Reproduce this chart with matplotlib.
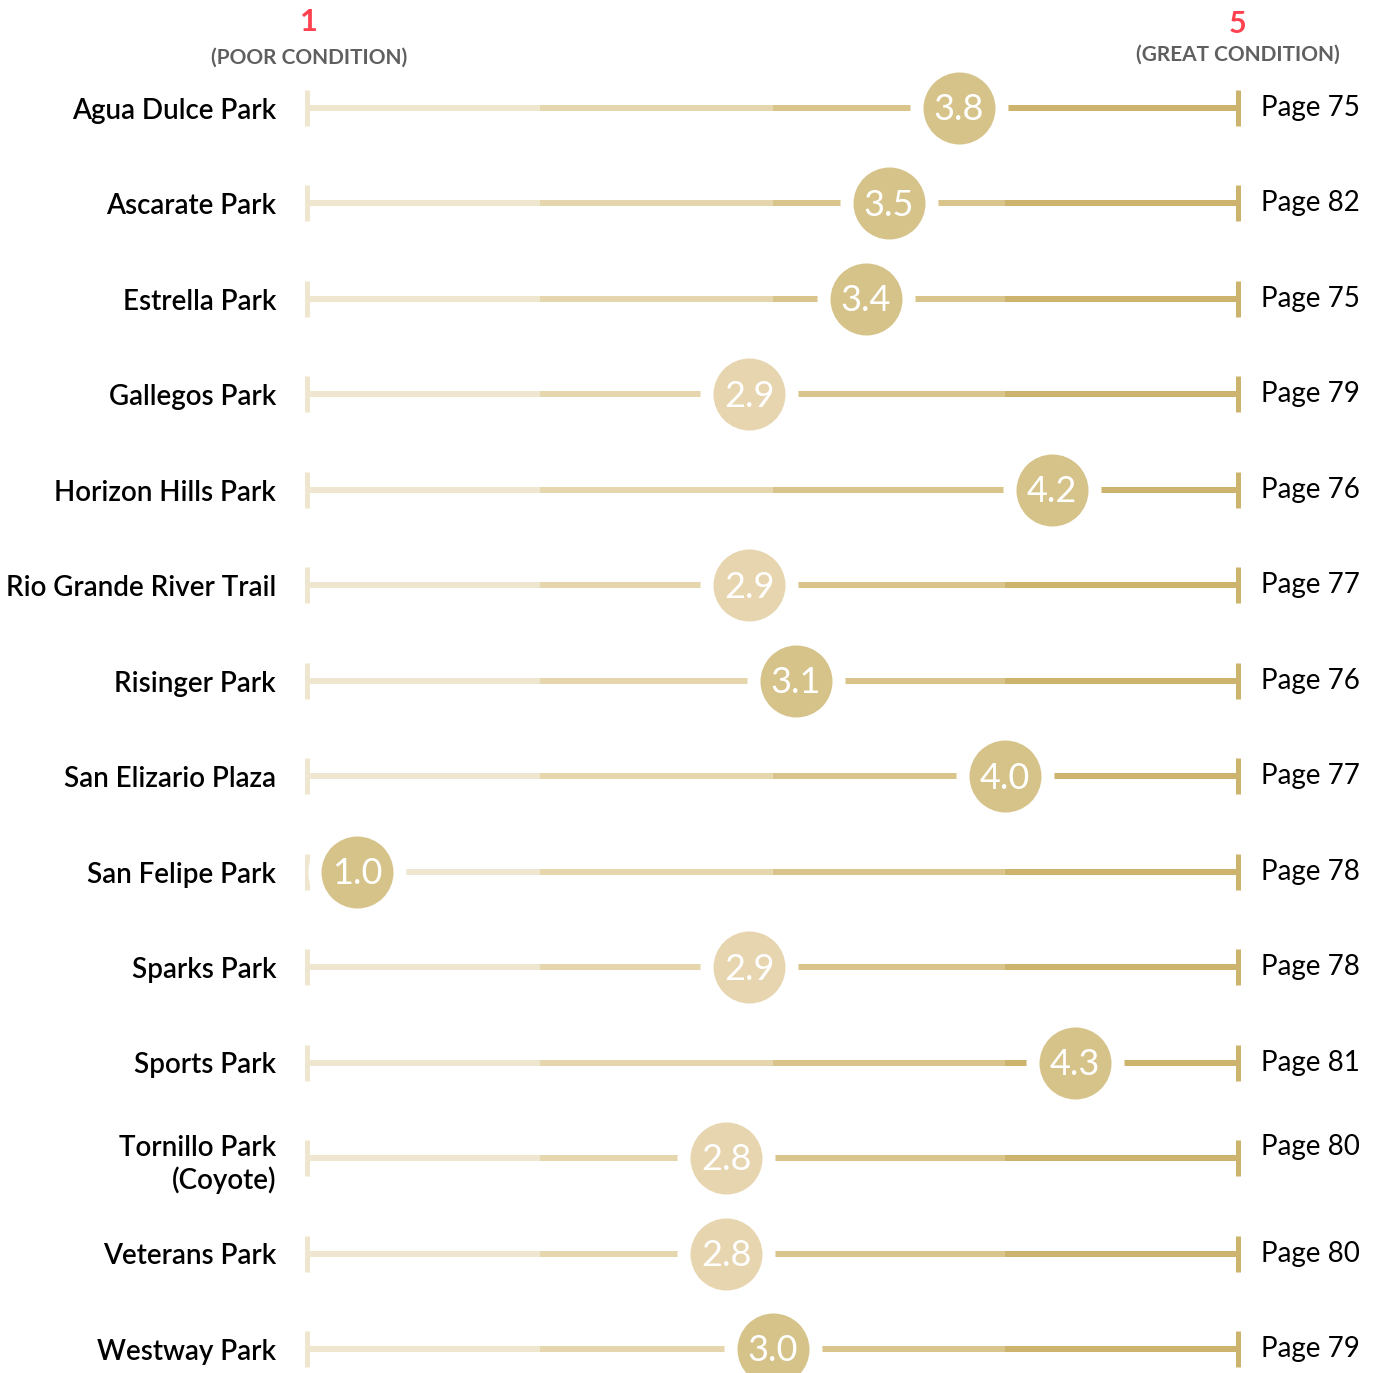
import matplotlib
matplotlib.use("Agg")
import matplotlib.pyplot as plt

# Park condition scores (1 = poor, 5 = great) and report page references
parks = [
    "Agua Dulce Park", "Ascarate Park", "Estrella Park", "Gallegos Park",
    "Horizon Hills Park", "Rio Grande River Trail", "Risinger Park",
    "San Elizario Plaza", "San Felipe Park", "Sparks Park", "Sports Park",
    "Tornillo Park\n(Coyote)", "Veterans Park", "Westway Park",
]
scores = [3.8, 3.5, 3.4, 2.9, 4.2, 2.9, 3.1, 4.0, 1.0, 2.9, 4.3, 2.8, 2.8, 3.0]
pages = ["Page 75", "Page 82", "Page 75", "Page 79", "Page 76", "Page 77",
         "Page 76", "Page 77", "Page 78", "Page 78", "Page 81", "Page 80",
         "Page 80", "Page 79"]
scale_breaks = [1, 2, 3, 4, 5]

# Styling
seg_colors = ["#efe6cf", "#e6d6ad", "#d9c48b", "#cdb46e"]
dot_dark = "#d6c389"
dot_light = "#e6d5ae"
red = "#ff4150"
gray = "#5f5f5f"
FONT = "Lato"

W = H = 1373
DPI = 100
px_per_unit = 232.75      # horizontal pixels per score point
row_px = 95.46            # vertical pixels per row
x0_px, y0_px = 307, 108   # where score 1 of the first row sits

fig = plt.figure(figsize=(W / DPI, H / DPI), dpi=DPI)
ax = fig.add_axes([0, 0, 1, 1])
ax.set_xlim(1 - x0_px / px_per_unit, 5 + (W - 1238) / px_per_unit)
ax.set_ylim((H - y0_px) / row_px, -y0_px / row_px)
ax.axis("off")
x_left = ax.get_xlim()[0]

px = 72 / DPI  # points per pixel
line_w = 6 * px
tick_w = 5 * px
tick_half = 18 / row_px
r_dot = 36
r_pad = 49
inset = (357 - x0_px) / px_per_unit  # keep a bottom-scoring dot inside the track

for i, (name, v, page) in enumerate(zip(parks, scores, pages)):
    y = i
    for k in range(4):
        ax.plot([scale_breaks[k], scale_breaks[k + 1]], [y, y],
                color=seg_colors[k], lw=line_w, solid_capstyle="butt", zorder=1)
    ax.plot([1, 1], [y - tick_half, y + tick_half], color=seg_colors[0],
            lw=tick_w, solid_capstyle="butt", zorder=2)
    ax.plot([5, 5], [y - tick_half, y + tick_half], color=seg_colors[3],
            lw=tick_w, solid_capstyle="butt", zorder=2)

    xd = max(v, 1 + inset)
    ax.scatter([xd], [y], s=(2 * r_pad * px) ** 2, color="white", lw=0, zorder=3)
    # scores in the 2-3 band get the pale tone
    tone = dot_light if 2 <= v < 3 else dot_dark
    ax.scatter([xd], [y], s=(2 * r_dot * px) ** 2, color=tone, lw=0, zorder=4)
    ax.text(xd, y + 0.02, f"{v:.1f}", color="white", fontsize=26, family=FONT,
            ha="center", va="center", zorder=5)

    if "\n" in name:
        ax.text(276 / px_per_unit + x_left, y + 0.07, name,
                ha="right", va="center", fontsize=20, family=FONT,
                fontweight="semibold", color="black", linespacing=1.25)
        ax.text(1261 / px_per_unit + x_left, y - 0.12, page,
                ha="left", va="center", fontsize=20, family=FONT, color="black")
    else:
        ax.text(276 / px_per_unit + x_left, y + 0.03, name,
                ha="right", va="center", fontsize=20, family=FONT,
                fontweight="semibold", color="black")
        ax.text(1261 / px_per_unit + x_left, y, page,
                ha="left", va="center", fontsize=20, family=FONT, color="black")

# Scale header
top = ax.get_ylim()[1]
ax.text(1.01, top + 22 / row_px, "1", color=red, fontsize=22, family=FONT,
        fontweight="bold", ha="center", va="center")
ax.text(1.01, top + 58 / row_px, "(POOR CONDITION)", color=gray, fontsize=15,
        family=FONT, fontweight="bold", ha="center", va="center")
ax.text(5.0, top + 24 / row_px, "5", color=red, fontsize=22, family=FONT,
        fontweight="bold", ha="center", va="center")
ax.text(5.0, top + 55 / row_px, "(GREAT CONDITION)", color=gray, fontsize=15,
        family=FONT, fontweight="bold", ha="center", va="center")

fig.savefig("out.png", dpi=DPI, facecolor="white")
